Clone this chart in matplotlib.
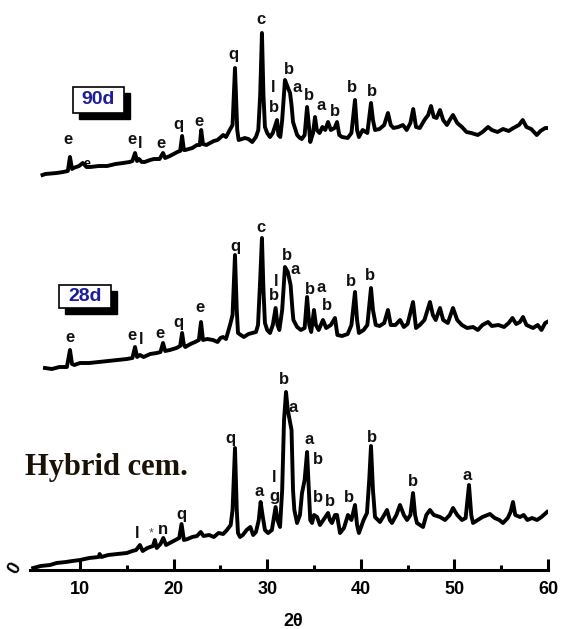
import numpy as np
import matplotlib.pyplot as plt
from matplotlib.patches import Rectangle

# 2theta / intensity (intensity relative to each pattern's own start)
tt_90d = [6.0, 6.3, 7.5, 8.2, 8.7, 8.93, 9.15, 9.3, 9.9, 10.3, 10.7, 11.1, 12.0, 12.9, 13.8, 14.6,
          15.3, 15.6, 15.88, 16.1, 16.3, 16.6, 16.9, 17.5, 17.9, 18.5, 18.87, 19.1, 19.6, 20.4, 20.7,
          20.91, 21.1, 21.25, 22.0, 22.5, 22.8, 22.95, 23.14, 23.5, 23.9, 24.3, 24.7, 25.3, 25.6, 26.0,
          26.3, 26.56, 26.8, 26.95, 27.3, 27.6, 28.0, 28.4, 28.8, 29.05, 29.25, 29.44, 29.6, 29.76, 30.0,
          30.3, 30.6, 31.05, 31.2, 31.4, 31.6, 31.9, 32.1, 32.44, 32.6, 32.76, 33.0, 33.2, 33.5, 33.7,
          34.0, 34.26, 34.5, 34.6, 34.9, 35.11, 35.3, 35.6, 35.9, 36.2, 36.5, 36.8, 37.2, 37.46, 37.7,
          38.0, 38.6, 39.0, 39.38, 39.6, 39.8, 40.2, 40.7, 41.09, 41.3, 41.52, 42.0, 42.5, 42.9, 43.2,
          43.5, 44.0, 44.5, 44.9, 45.3, 45.6, 45.9, 46.3, 46.8, 47.2, 47.5, 47.8, 48.1, 48.46, 48.8,
          49.2, 49.5, 49.85, 50.3, 50.8, 51.3, 51.8, 52.5, 53.0, 53.6, 54.0, 54.6, 55.2, 55.8, 56.3,
          56.9, 57.3, 57.7, 58.2, 58.8, 59.2, 59.7, 59.9]
i_90d = [0, 1, 2, 3, 4, 18, 6, 7, 9, 12, 8, 8, 9, 9, 11, 12,
         13, 14, 22, 14, 16, 13, 13, 15, 16, 16, 22, 17, 19, 23, 24,
         39, 25, 25, 27, 30, 30, 45, 31, 30, 32, 34, 35, 40, 38, 45,
         50, 107, 45, 35, 36, 37, 36, 33, 38, 45, 80, 142, 80, 48, 42,
         38, 42, 55, 40, 38, 55, 95, 90, 82, 70, 53, 46, 40, 37, 36,
         40, 68, 45, 33, 42, 58, 45, 42, 48, 45, 53, 45, 47, 53, 40,
         38, 37, 42, 75, 45, 38, 45, 42, 72, 55, 45, 46, 50, 62, 50,
         47, 48, 50, 45, 52, 66, 48, 47, 55, 60, 69, 58, 57, 65, 55,
         50, 55, 60, 52, 48, 43, 42, 40, 43, 48, 45, 43, 46, 44, 47,
         50, 55, 48, 46, 40, 44, 47, 47]

tt_28d = [6.26, 7.0, 7.8, 8.6, 8.93, 9.15, 9.4, 10.0, 11.0, 12.0, 13.0, 14.0, 15.0, 15.6, 15.88,
          16.1, 16.4, 16.8, 17.5, 18.2, 18.6, 18.87, 19.1, 19.6, 20.3, 20.7, 20.91, 21.1, 21.25, 21.8,
          22.3, 22.7, 22.93, 23.14, 23.6, 24.2, 24.7, 25.0, 25.28, 25.6, 26.03, 26.3, 26.56, 26.75,
          26.88, 27.2, 27.5, 28.0, 28.4, 28.8, 29.02, 29.25, 29.44, 29.6, 29.76, 30.0, 30.3, 30.6,
          30.9, 31.1, 31.3, 31.6, 31.9, 32.2, 32.5, 32.7, 32.8, 33.2, 33.6, 34.0, 34.26, 34.5, 34.7,
          35.0, 35.2, 35.5, 35.96, 36.3, 36.8, 37.24, 37.5, 38.0, 38.6, 39.0, 39.38, 39.6, 39.8, 40.3,
          40.7, 41.09, 41.3, 41.6, 42.0, 42.5, 42.9, 43.2, 43.7, 44.2, 44.6, 45.0, 45.58, 45.9, 46.3,
          46.8, 47.39, 47.7, 48.0, 48.46, 48.8, 49.3, 49.85, 50.3, 50.8, 51.35, 52.0, 52.5, 53.0,
          53.59, 54.0, 54.7, 55.3, 55.8, 56.2, 56.6, 57.0, 57.33, 57.7, 58.4, 58.9, 59.3, 59.7, 59.9]
i_28d = [2, 1, 3, 3, 20, 6, 5, 7, 7, 8, 9, 10, 11, 12, 23,
         13, 15, 13, 16, 17, 18, 27, 19, 20, 22, 24, 37, 25, 23, 26,
         28, 30, 48, 30, 31, 30, 28, 32, 33, 31, 45, 55, 115, 60,
         37, 35, 33, 36, 37, 38, 45, 90, 132, 80, 47, 40, 37, 45,
         62, 45, 40, 60, 103, 98, 85, 60, 50, 43, 40, 42, 73, 45, 38,
         60, 45, 40, 50, 42, 45, 52, 35, 34, 36, 45, 78, 50, 37, 40,
         45, 82, 60, 45, 44, 47, 60, 45, 45, 50, 43, 46, 68, 42, 45,
         50, 68, 55, 50, 62, 50, 47, 62, 50, 45, 42, 43, 40, 45,
         48, 44, 45, 43, 47, 52, 46, 48, 53, 45, 42, 45, 40, 47, 48]

tt_hyb = [5.0, 5.8, 6.8, 7.5, 8.5, 9.2, 10.0, 11.0, 12.0, 12.1, 12.3, 13.0, 14.0, 15.0, 15.6, 16.0,
          16.4, 16.7, 17.2, 17.8, 18.0, 18.2, 18.6, 18.9, 19.2, 19.6, 20.2, 20.6, 20.85, 21.1, 21.5,
          22.0, 22.5, 22.9, 23.2, 23.8, 24.3, 24.8, 25.3, 25.7, 26.1, 26.3, 26.56, 26.75, 26.88, 27.1,
          27.4, 27.8, 28.2, 28.5, 28.8, 29.1, 29.3, 29.5, 29.76, 30.1, 30.5, 30.9, 31.1, 31.37, 31.6,
          31.8, 32.01, 32.2, 32.44, 32.6, 32.76, 32.9, 33.19, 33.5, 33.72, 34.0, 34.26, 34.45, 34.6,
          34.79, 35.0, 35.33, 35.64, 36.0, 36.5, 36.7, 36.92, 37.24, 37.46, 37.78, 38.2, 38.63, 39.0,
          39.38, 39.6, 39.8, 40.3, 40.66, 40.9, 41.09, 41.3, 41.52, 42.05, 42.5, 42.8, 43.1, 43.33,
          43.8, 44.19, 44.6, 44.94, 45.3, 45.58, 45.8, 46.0, 46.65, 47.0, 47.39, 47.8, 48.46, 49.0,
          49.5, 49.85, 50.3, 50.81, 51.2, 51.56, 51.8, 51.99, 52.5, 53.0, 53.8, 54.3, 54.8, 55.19,
          55.7, 56.0, 56.26, 56.5, 57.01, 57.4, 57.8, 58.3, 58.83, 59.3, 59.9]
i_hyb = [2, 4, 5, 7, 8, 9, 10, 12, 13, 16, 13, 15, 16, 17, 19, 20,
         25, 19, 22, 24, 30, 22, 26, 32, 25, 27, 30, 32, 46, 30, 31,
         33, 34, 38, 34, 35, 33, 37, 36, 40, 45, 60, 122, 60, 37, 33,
         35, 40, 43, 35, 38, 50, 68, 55, 40, 37, 40, 63, 50, 43, 80,
         150, 178, 160, 148, 140, 80, 60, 47, 55, 77, 90, 118, 80, 50,
         47, 55, 53, 45, 50, 57, 50, 47, 55, 55, 37, 42, 55, 50,
         65, 45, 37, 50, 57, 90, 124, 80, 53, 48, 55, 60, 50, 47,
         55, 65, 55, 50, 55, 77, 55, 47, 43, 55, 60, 55, 53, 50,
         55, 62, 55, 50, 52, 85, 55, 47, 50, 53, 56, 52, 50, 47,
         52, 58, 68, 55, 53, 55, 50, 52, 50, 53, 58]

offset_90d = 395
offset_28d = 200

# phase labels: letter, 2theta, height on the plot
lab_90d = [("e", 8.72, 430), ("e", 15.56, 430), ("l", 16.41, 427), ("e", 18.65, 427),
           ("q", 20.57, 446), ("e", 22.71, 448), ("q", 26.35, 515), ("c", 29.34, 550),
           ("l", 30.62, 482), ("b", 30.73, 463), ("b", 32.33, 500), ("a", 33.19, 483),
           ("b", 34.47, 475), ("a", 35.75, 464), ("b", 37.24, 459), ("b", 39.06, 482),
           ("b", 41.2, 478)]
lab_28d = [("e", 8.93, 232), ("e", 15.56, 234), ("l", 16.52, 231), ("e", 18.55, 236),
           ("q", 20.47, 247), ("e", 22.82, 262), ("q", 26.56, 323), ("c", 29.34, 343),
           ("l", 30.94, 289), ("b", 30.73, 275), ("b", 32.12, 315), ("a", 32.97, 300),
           ("b", 34.58, 281), ("a", 35.75, 283), ("b", 36.39, 265), ("b", 38.95, 288),
           ("b", 40.98, 295)]
lab_hyb = [("l", 16.09, 37), ("n", 18.87, 40), ("q", 20.79, 56), ("q", 26.03, 132),
           ("a", 29.13, 78), ("l", 30.73, 92), ("g", 30.73, 73), ("b", 31.8, 191),
           ("a", 32.76, 162), ("a", 34.47, 130), ("b", 35.43, 111), ("b", 35.43, 72),
           ("b", 36.71, 68), ("b", 38.74, 73), ("b", 41.2, 133), ("b", 45.58, 89),
           ("a", 51.35, 94)]

W, H = 561, 629
fig = plt.figure(figsize=(W / 100, H / 100), dpi=100)
ax = fig.add_axes([30 / W, (H - 570) / H, 518 / W, 570 / H])
ax.set_xlim(4.66, 60.0)
ax.set_ylim(0, 570)

lw = 2.8
ax.plot(tt_90d, np.array(i_90d) + offset_90d, color="black", lw=lw)
ax.plot(tt_28d, np.array(i_28d) + offset_28d, color="black", lw=lw)
ax.plot(tt_hyb, i_hyb, color="black", lw=lw)

lab_font = dict(family="Liberation Sans", fontweight="bold", fontsize=12, color="#111111",
                ha="center", va="center")
for lab in (lab_90d, lab_28d, lab_hyb):
    for t, x, y in lab:
        ax.text(x, y, t, **lab_font)
# small marks
ax.text(10.75, 406, "e", family="Liberation Sans", fontweight="bold", fontsize=9,
        ha="center", va="center")
ax.text(17.58, 37, "*", family="Liberation Sans", fontsize=9, color="#555555",
        ha="center", va="center")

for s in ("left", "top", "right"):
    ax.spines[s].set_visible(False)
ax.spines["bottom"].set_linewidth(2.2)
ax.set_yticks([])
ax.set_xticks([10, 20, 30, 40, 50, 60])
ax.set_xticks([15, 25, 35, 45, 55], minor=True)
ax.tick_params(axis="x", which="major", direction="in", length=8, width=2.2, pad=8,
               labelsize=13)
ax.tick_params(axis="x", which="minor", direction="in", length=3.6, width=2.2)
for lb in ax.get_xticklabels():
    lb.set_fontweight("bold")
    lb.set_family("Liberation Sans")

fig.text(15 / W, 1 - 568 / H, "0", fontsize=13, fontweight="bold", rotation=60,
         ha="center", va="center", family="Liberation Sans")
fig.text(293 / W, 1 - 622 / H, "2θ", fontsize=13, fontweight="bold", ha="center",
         va="center", family="Liberation Sans")

# boxed sample names with drop shadow
for name, x0, y0, x1, y1 in [("90d", 73, 87, 124, 113), ("28d", 59, 285, 111, 308)]:
    fig.patches.append(Rectangle(((x0 + 6) / W, 1 - (y1 + 6) / H), (x1 - x0) / W, (y1 - y0) / H,
                                 transform=fig.transFigure, facecolor="black", edgecolor="black"))
    fig.patches.append(Rectangle((x0 / W, 1 - y1 / H), (x1 - x0) / W, (y1 - y0) / H,
                                 transform=fig.transFigure, facecolor="white", edgecolor="black",
                                 lw=1.2))
    fig.text((x0 + x1) / 2 / W, 1 - (y0 + y1) / 2 / H, name, fontsize=14, fontweight="bold",
             color="#1c1c9c", ha="center", va="center", family="Liberation Sans")

fig.text(25 / W, 1 - 468 / H, "Hybrid cem.", fontsize=22, fontweight="bold",
         family="Liberation Serif", color="#1a1206", ha="left", va="center")

fig.savefig("out.png", dpi=100)
